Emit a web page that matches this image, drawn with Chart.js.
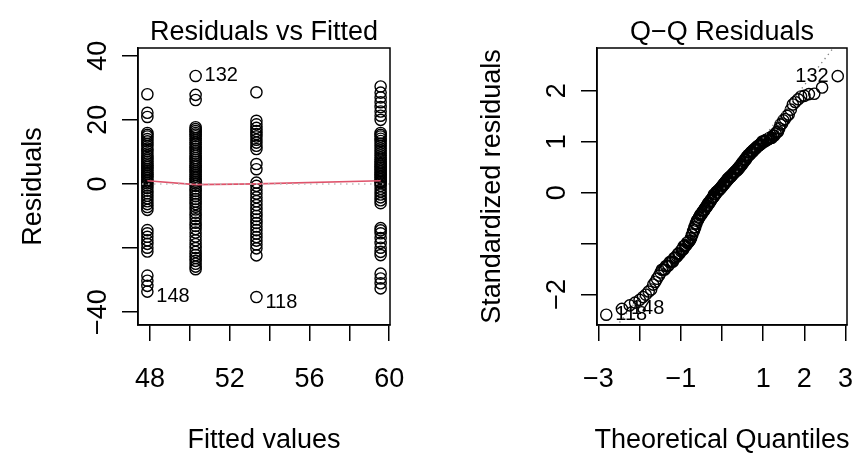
<!DOCTYPE html>
<html>
<head>
<meta charset="utf-8">
<script src="https://cdn.jsdelivr.net/npm/chart.js@4.4.0/dist/chart.umd.min.js"></script>
<style>
  html, body { margin: 0; padding: 0; background: #fff; }
  #wrap { position: relative; width: 854px; height: 455px; overflow: hidden; }
  canvas { position: absolute; top: 0; }
</style>
</head>
<body>
<div id="wrap">
  <canvas id="fitChart" width="427" height="455" style="left:0"></canvas>
  <canvas id="qqChart" width="427" height="455" style="left:427px"></canvas>
</div>
<script>
// ---- data ----
// fitted value of each of the four groups (x of the columns)
const fittedLevels = [47.87, 50.29, 53.34, 59.57];

// residuals per group
const residG1 = [28.0, 22.2, 20.9, 15.9, 15.3, 14.8, 14.0, 13.3, 12.5, 11.8, 11.0, 10.3, 9.5, 8.8, 8.1, 7.5,
  6.9, 6.4, 5.8, 5.3, 4.7, 4.2, 3.6, 3.0, 2.5, 1.9, 1.3, 0.8, 0.2,
  -0.5, -1.3, -2.1, -2.9, -3.7, -4.5, -5.4, -6.3, -7.2, -8.1,
  -14.4, -15.4, -16.5, -17.6, -18.7, -19.9, -21.1, -28.6, -30.2, -31.8, -33.6];
const residG2 = [33.7, 27.8, 26.2, 17.7, 17.1, 16.5, 15.9, 15.4, 14.9,
  14.2, 13.6, 12.9, 12.3, 11.6, 10.9, 10.2, 9.5, 8.8, 8.1, 7.5,
  6.9, 6.3, 5.7, 5.2, 4.6, 4.0, 3.5, 2.9, 2.3, 1.7, 1.2, 0.7, 0.1,
  -0.6, -1.4, -2.2, -3.0, -3.8, -4.7, -5.5, -6.3, -7.1,
  -8.0, -9.0, -10.0, -11.0, -12.1, -13.1, -14.1,
  -15.2, -16.4, -17.6, -18.8, -20.0, -21.2,
  -22.2, -23.1, -24.0, -24.9, -25.8, -26.6];
const residG3 = [28.6, 19.7, 18.6, 17.5, 16.5, 15.6, 14.8, 13.8, 12.9, 11.9, 10.9,
  6.2, 4.6, 0.4, -0.6, -1.8, -3.0, -4.2, -5.4, -6.6,
  -7.8, -8.9, -10.0, -11.1, -12.2, -13.3, -14.4,
  -15.5, -16.6, -17.7, -18.9, -20.1, -22.3, -35.3];
const residG4 = [30.4, 28.5, 27.0, 25.5, 24.0, 22.6, 21.3, 20.0, 15.9, 15.3, 14.8,
  14.1, 13.4, 12.6, 11.9, 11.1, 10.4, 9.6, 8.9, 8.2, 7.6,
  7.0, 6.5, 6.0, 5.5, 5.0, 4.5, 4.0, 3.5, 3.0, 2.5, 2.0, 1.5, 1.0, 0.6, 0.2,
  -0.6, -1.5, -2.4, -3.3, -4.2, -5.1, -6.0,
  -13.8, -14.5, -15.4, -16.9, -18.4, -19.9, -21.2, -22.2,
  -28.0, -29.5, -31.0, -32.6];
const residGroups = [residG1, residG2, residG3, residG4];

// red smoother through the four columns
const lowessY = [1.0, -0.2, 0.0, 1.0];

// residual standard error used for the standardized residuals
const residSE = 14.72;

// theoretical normal quantiles, n = 200
const theoQuantiles = [
  -2.81, -2.43, -2.24, -2.11, -2.00, -1.92, -1.85, -1.78, -1.72, -1.67,
  -1.62, -1.58, -1.53, -1.49, -1.46, -1.42, -1.39, -1.36, -1.33, -1.30,
  -1.27, -1.24, -1.21, -1.19, -1.16, -1.14, -1.12, -1.09, -1.07, -1.05,
  -1.03, -1.00, -0.98, -0.96, -0.94, -0.93, -0.91, -0.89, -0.87, -0.85,
  -0.83, -0.82, -0.80, -0.78, -0.76, -0.75, -0.73, -0.72, -0.70, -0.68,
  -0.67, -0.65, -0.64, -0.62, -0.61, -0.59, -0.58, -0.56, -0.55, -0.53,
  -0.52, -0.50, -0.49, -0.47, -0.46, -0.45, -0.43, -0.42, -0.41, -0.39,
  -0.38, -0.37, -0.35, -0.34, -0.33, -0.31, -0.30, -0.29, -0.27, -0.26,
  -0.25, -0.23, -0.22, -0.21, -0.20, -0.18, -0.17, -0.16, -0.14, -0.13,
  -0.12, -0.11, -0.09, -0.08, -0.07, -0.06, -0.04, -0.03, -0.02, -0.01,
  0.01, 0.02, 0.03, 0.04, 0.06, 0.07, 0.08, 0.09, 0.11, 0.12,
  0.13, 0.14, 0.16, 0.17, 0.18, 0.20, 0.21, 0.22, 0.23, 0.25,
  0.26, 0.27, 0.29, 0.30, 0.31, 0.33, 0.34, 0.35, 0.37, 0.38,
  0.39, 0.41, 0.42, 0.43, 0.45, 0.46, 0.47, 0.49, 0.50, 0.52,
  0.53, 0.55, 0.56, 0.58, 0.59, 0.61, 0.62, 0.64, 0.65, 0.67,
  0.68, 0.70, 0.72, 0.73, 0.75, 0.76, 0.78, 0.80, 0.82, 0.83,
  0.85, 0.87, 0.89, 0.91, 0.93, 0.94, 0.96, 0.98, 1.00, 1.03,
  1.05, 1.07, 1.09, 1.12, 1.14, 1.16, 1.19, 1.21, 1.24, 1.27,
  1.30, 1.33, 1.36, 1.39, 1.42, 1.46, 1.49, 1.53, 1.58, 1.62,
  1.67, 1.72, 1.78, 1.85, 1.92, 2.00, 2.11, 2.24, 2.43, 2.81
];

// dotted reference line of the Q-Q plot (two end points)
const qqLineX = [-3.2, 3.2];
const qqLineY = [-3.29, 3.36];

// labelled observations
const obsIds = ['132', '148', '118'];
const obsFitted = [50.29, 47.87, 53.34];
const obsResid = [33.7, -33.6, -35.3];

// axes
const fitXRange = [47.40, 60.04];
const fitYRange = [-44.02, 42.42];
const fitXTicks = [48, 50, 52, 54, 56, 58, 60];
const fitXLabels = [48, 52, 56, 60];
const fitYTicks = [-40, -20, 0, 20, 40];
const fitYLabels = [-40, 0, 20, 40];

const qqXRange = [-3.035, 3.035];
const qqYRange = [-2.60, 2.842];
const qqXTicks = [-3, -2, -1, 0, 1, 2, 3];
const qqXLabels = [-3, -1, 1, 2, 3];
const qqYTicks = [-2, -1, 0, 1, 2];
const qqYLabels = [-2, 0, 1, 2];

// ---- look ----
const FONT = '"Liberation Sans", Arial, Helvetica, sans-serif';
const INK = '#000000';
const LWD = 1.5;
Chart.defaults.font.family = FONT;

function fmt(v) {
  return v < 0 ? '\u2212' + Math.abs(v) : String(v);
}

function axis(pos, range, ticks, size) {
  return {
    type: 'linear',
    position: pos,
    min: range[0],
    max: range[1],
    afterBuildTicks: s => { s.ticks = ticks.map(v => ({ value: v })); },
    afterFit: s => { if (pos === 'bottom') s.height = size; else s.width = size; },
    ticks: { display: false },
    grid: { display: true, drawOnChartArea: false, drawTicks: true, tickLength: 16, color: INK, lineWidth: LWD },
    border: { display: true, color: INK, width: LWD }
  };
}

// box, titles, tick labels and point ids, R style
function panelPlugin(spec) {
  return {
    id: 'rPanel',
    afterDraw(chart) {
      const { ctx, chartArea: a } = chart;
      const xs = chart.scales.x, ys = chart.scales.y;
      const cx = (a.left + a.right) / 2, cy = (a.top + a.bottom) / 2;
      ctx.save();
      ctx.strokeStyle = INK;
      ctx.lineWidth = LWD;
      ctx.strokeRect(a.left, a.top, a.right - a.left, a.bottom - a.top);

      ctx.fillStyle = INK;
      ctx.font = '27px ' + FONT;
      ctx.textAlign = 'center';
      ctx.textBaseline = 'alphabetic';
      ctx.fillText(spec.title, cx, a.top - 8);
      spec.xLabels.forEach(v => ctx.fillText(fmt(v), xs.getPixelForValue(v), a.bottom + 62));
      ctx.fillText(spec.xTitle, cx, a.bottom + 123);

      spec.yLabels.forEach(v => {
        ctx.save();
        ctx.translate(a.left - 32, ys.getPixelForValue(v));
        ctx.rotate(-Math.PI / 2);
        ctx.fillText(fmt(v), 0, 0);
        ctx.restore();
      });
      ctx.save();
      ctx.translate(a.left - 97, cy);
      ctx.rotate(-Math.PI / 2);
      ctx.fillText(spec.yTitle, 0, 0);
      ctx.restore();

      ctx.font = '20px ' + FONT;
      ctx.textBaseline = 'middle';
      spec.ids.forEach(p => {
        const px = xs.getPixelForValue(p.x), py = ys.getPixelForValue(p.y) + (p.dy || 0);
        ctx.textAlign = p.left ? 'right' : 'left';
        ctx.fillText(p.text, p.left ? px - 9 : px + 9, py);
      });
      ctx.restore();
    }
  };
}

const baseOptions = {
  responsive: false,
  animation: false,
  events: [],
  plugins: { legend: { display: false }, tooltip: { enabled: false } }
};

const circleStyle = {
  showLine: false,
  pointStyle: 'circle',
  pointRadius: 5.6,
  pointBorderWidth: 1.4,
  pointBorderColor: INK,
  pointBackgroundColor: 'rgba(0,0,0,0)'
};

// ---- Residuals vs Fitted ----
const fitPoints = [];
residGroups.forEach((g, i) => g.forEach(r => fitPoints.push({ x: fittedLevels[i], y: r })));

new Chart(document.getElementById('fitChart'), {
  type: 'scatter',
  data: {
    datasets: [
      Object.assign({ data: fitPoints, order: 3 }, circleStyle),
      {
        type: 'line', order: 2,
        data: fittedLevels.map((x, i) => ({ x, y: lowessY[i] })),
        borderColor: '#DF536B', borderWidth: 1.7, pointRadius: 0, tension: 0, fill: false
      },
      {
        type: 'line', order: 1, clip: 0,
        data: [{ x: 47, y: 0 }, { x: 61, y: 0 }],
        borderColor: '#BEBEBE', borderWidth: 1.5, borderDash: [1.5, 4.5], pointRadius: 0, fill: false
      }
    ]
  },
  options: Object.assign({}, baseOptions, {
    layout: { padding: { left: 0, right: 37, top: 48, bottom: 0 } },
    scales: {
      x: axis('bottom', fitXRange, fitXTicks, 130),
      y: axis('left', fitYRange, fitYTicks, 138)
    }
  }),
  plugins: [panelPlugin({
    title: 'Residuals vs Fitted',
    xTitle: 'Fitted values',
    yTitle: 'Residuals',
    xLabels: fitXLabels,
    yLabels: fitYLabels,
    ids: obsIds.map((t, i) => ({ text: t, x: obsFitted[i], y: obsResid[i], dy: obsResid[i] < 0 ? 5 : 0 }))
  })]
});

// ---- Q-Q Residuals ----
const sortedResid = residGroups.flat().sort((a, b) => a - b);
const nQ = Math.min(sortedResid.length, theoQuantiles.length);
const qqPoints = [];
for (let i = 0; i < nQ; i++) qqPoints.push({ x: theoQuantiles[i], y: sortedResid[i] / residSE });

const qqIds = obsIds.map((t, i) => {
  const k = sortedResid.indexOf(obsResid[i]);
  const qx = theoQuantiles[k];
  return { text: t, x: qx, y: obsResid[i] / residSE, left: qx > 0 };
});

new Chart(document.getElementById('qqChart'), {
  type: 'scatter',
  data: {
    datasets: [
      Object.assign({ data: qqPoints, order: 2 }, circleStyle),
      {
        type: 'line', order: 1, clip: 0,
        data: qqLineX.map((x, i) => ({ x, y: qqLineY[i] })),
        borderColor: '#7F7F7F', borderWidth: 1.3, borderDash: [1.3, 4], pointRadius: 0, fill: false
      }
    ]
  },
  options: Object.assign({}, baseOptions, {
    layout: { padding: { left: 0, right: 6, top: 48, bottom: 0 } },
    scales: {
      x: axis('bottom', qqXRange, qqXTicks, 130),
      y: axis('left', qqYRange, qqYTicks, 170)
    }
  }),
  plugins: [panelPlugin({
    title: 'Q\u2212Q Residuals',
    xTitle: 'Theoretical Quantiles',
    yTitle: 'Standardized residuals',
    xLabels: qqXLabels,
    yLabels: qqYLabels,
    ids: qqIds
  })]
});
</script>
</body>
</html>
